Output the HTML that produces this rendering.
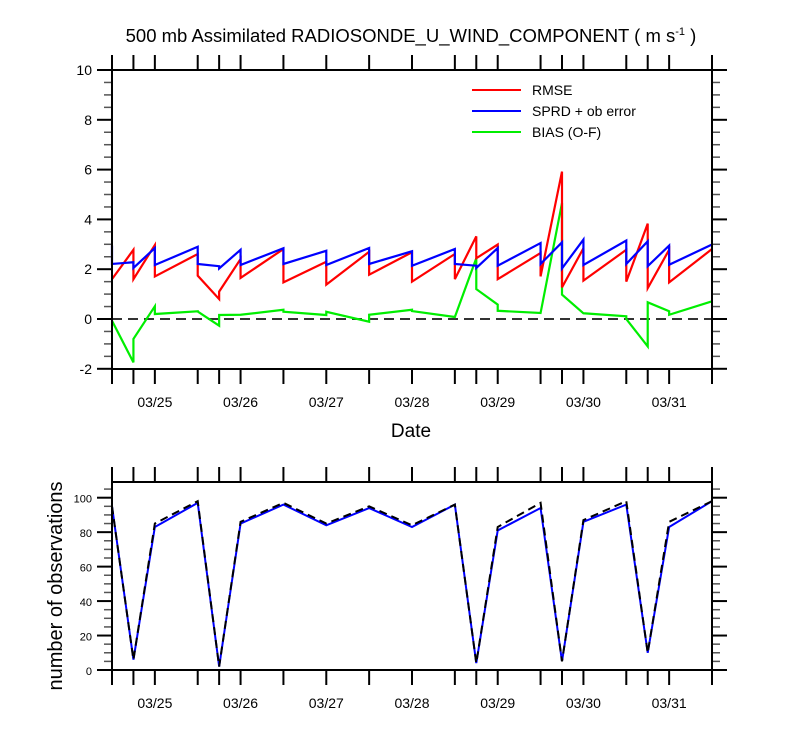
<!DOCTYPE html>
<html><head><meta charset="utf-8"><style>
body{margin:0;background:#fff}
svg{display:block;font-family:"Liberation Sans",Arial,sans-serif}
</style></head><body>
<svg id="chart" width="800" height="750" viewBox="0 0 800 750" xmlns="http://www.w3.org/2000/svg">
<rect width="800" height="750" fill="#fff"/>
<text x="411" y="42" text-anchor="middle" font-size="18.5">500 mb Assimilated RADIOSONDE_U_WIND_COMPONENT ( m s<tspan font-size="11" dy="-7">-1</tspan><tspan dy="7"> )</tspan></text>
<g id="topPanel"></g>
<g id="botPanel"></g>
<text x="411" y="437" text-anchor="middle" font-size="19">Date</text>
<text transform="translate(62,586) rotate(-90)" text-anchor="middle" font-size="20">number of observations</text>
<g>
<line x1="472" y1="90" x2="521" y2="90" stroke="#f00" stroke-width="2"/>
<text x="532" y="95" font-size="14">RMSE</text>
<line x1="472" y1="111" x2="521" y2="111" stroke="#00f" stroke-width="2"/>
<text x="532" y="116" font-size="14">SPRD + ob error</text>
<line x1="472" y1="132" x2="521" y2="132" stroke="#0e0" stroke-width="2"/>
<text x="532" y="137" font-size="14">BIAS (O-F)</text>
</g>
</svg>
<script>
// hours since 03/24 12Z
const times = [0,6,12,24,30,36,48,60,72,84,96,102,108,120,126,132,144,150,156,168];
const rmseIn  = [1.6,2.78,2.97,2.61,0.8,2.41,2.81,2.3,2.7,2.68,2.61,3.32,2.99,2.65,5.92,2.84,2.78,3.83,2.78,2.81];
const rmseOut = [1.6,1.6,1.71,1.74,1.1,1.65,1.47,1.38,1.78,1.5,1.6,2.44,1.6,1.71,1.27,1.54,1.5,1.24,1.47,2.81];
const sprdIn  = [2.95,2.28,2.85,2.9,2.12,2.78,2.84,2.74,2.85,2.72,2.81,2.14,2.85,3.05,3.08,3.19,3.15,3.12,2.95,2.99];
const sprdOut = [2.21,2.05,2.17,2.21,2.03,2.17,2.21,2.17,2.21,2.14,2.21,2.05,2.14,2.21,2.03,2.17,2.21,2.12,2.18,2.99];
const biasIn  = [-0.07,-1.74,0.51,0.31,-0.27,0.17,0.37,0.16,-0.11,0.37,0.08,2.44,0.58,0.24,4.66,0.23,0.11,-1.1,0.31,0.71];
const biasOut = [-0.07,-0.8,0.2,0.3,0.16,0.17,0.29,0.29,0.17,0.32,0.08,1.2,0.33,0.24,0.98,0.23,0.0,0.67,0.17,0.71];
const obsUsed = [95,6,83,97,2,85,96,84,94,83,96,4,81,94,5,86,96,10,83,98];
const obsTotal= [95,6,85,98,2,86,97,85,95,84,96,4,83,97,5,87,98,10,86,98];
const topTicks = [-2,0,2,4,6,8,10];
const botTicks = [0,20,40,60,80,100];
const dateLabels = ["03/25","03/26","03/27","03/28","03/29","03/30","03/31"];
const dateHours = [12,36,60,84,108,132,156];

const NS="http://www.w3.org/2000/svg";
const X0=112,X1=712,TMAX=168;
const xs=t=>X0+t*(X1-X0)/TMAX;
const yT=v=>319-v*24.9;
const yB=v=>670-v*1.723;
function mk(tag,attrs,parent){const e=document.createElementNS(NS,tag);for(const k in attrs)e.setAttribute(k,attrs[k]);parent.appendChild(e);return e;}
const topG=document.getElementById('topPanel'),botG=document.getElementById('botPanel');

function axes(g,yTop,yBot,yf,ticks,minorStep,vmin,vmax,fs,panel){
  const st={stroke:"#000","stroke-width":2};
  for(const t of times){
    let l=mk('line',Object.assign({x1:xs(t),x2:xs(t),y1:yBot,y2:yBot+15},st),g);
    
    
    l=mk('line',Object.assign({x1:xs(t),x2:xs(t),y1:yTop,y2:yTop-15},st),g);
    
    
  }
  for(let v=vmin;v<=vmax+1e-9;v+=minorStep){
    const major=ticks.some(k=>Math.abs(k-v)<1e-9);
    const len=major?15:8;
    let l=mk('line',{x1:X0-len,x2:X0,y1:yf(v),y2:yf(v),stroke:major?"#000":"#555","stroke-width":major?2:1.5},g);
    
    
    l=mk('line',{x1:X1,x2:X1+len,y1:yf(v),y2:yf(v),stroke:major?"#000":"#555","stroke-width":major?2:1.5},g);
    
    
  }
  for(const v of ticks){
    const tx=mk('text',{x:X0-20,y:yf(v)+5,"text-anchor":"end","font-size":fs},g);
    tx.textContent=v;
    
    
  }
  dateLabels.forEach((d,i)=>{
    const tx=mk('text',{x:xs(dateHours[i]),y:yBot+38,"text-anchor":"middle","font-size":14},g);
    tx.textContent=d;
    
    
  });
  const fr=mk('rect',{x:X0,y:yTop,width:X1-X0,height:yBot-yTop,fill:"none",stroke:"#000","stroke-width":2},g);
  
  
}
function saw(g,inArr,outArr,yf,color,name){
  let d="";
  times.forEach((t,i)=>{d+=(i?"L":"M")+xs(t)+","+yf(inArr[i])+"L"+xs(t)+","+yf(outArr[i]);});
  const p=mk('path',{d:d,fill:"none",stroke:color,"stroke-width":2.2},g);
  
  
}
function line(g,arr,yf,color,name,dash){
  const d=times.map((t,i)=>(i?"L":"M")+xs(t)+","+yf(arr[i])).join("");
  const p=mk('path',{d:d,fill:"none",stroke:color,"stroke-width":2},g);
  if(dash)p.setAttribute('stroke-dasharray',dash);
  
  
}
const zl=mk('line',{x1:X0,x2:X1,y1:yT(0),y2:yT(0),stroke:"#333","stroke-width":2,"stroke-dasharray":"10,6"},topG);


saw(topG,biasIn,biasOut,yT,"#0e0","bias-line");
saw(topG,rmseIn,rmseOut,yT,"#f00","rmse-line");
saw(topG,sprdIn,sprdOut,yT,"#00f","sprd-line");
axes(topG,70,369,yT,topTicks,0.5,-2,10,14,'top');
line(botG,obsUsed,yB,"#00f","obs-used-line");
line(botG,obsTotal,yB,"#000","obs-total-line","8,5");
axes(botG,482,670,yB,botTicks,5,0,105,11,'bottom');
</script>
</body></html>
